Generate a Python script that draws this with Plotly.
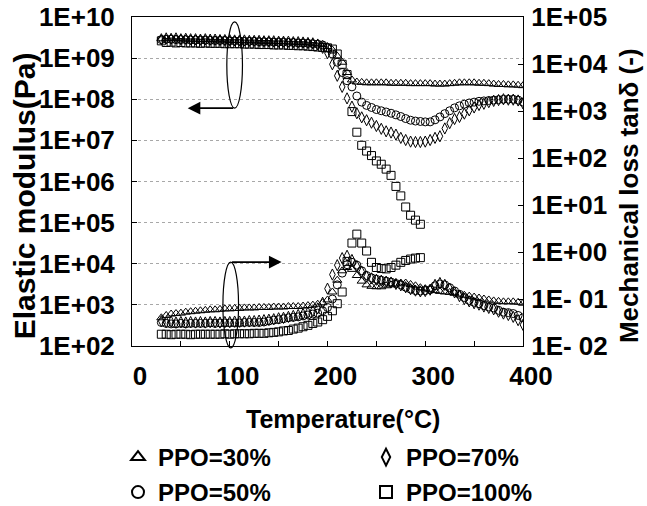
import plotly.graph_objects as go

# Temperatures (°C)
temp_a = [30, 35, 40, 45, 50, 55, 60, 65, 70, 75, 80, 85, 90, 95, 100, 105, 110, 115, 120, 125,
          130, 135, 140, 145, 150, 155, 160, 165, 170, 175, 180, 185, 190, 195, 200, 205, 210, 215,
          220, 225, 230, 235, 240, 245, 250, 255, 260, 265, 270, 275, 280, 285, 290, 295, 300, 305,
          310, 315, 320, 325, 330, 335, 340, 345, 350, 355, 360, 365, 370, 375, 380, 385, 390, 395, 400]
temp_100 = [30, 35, 40, 45, 50, 55, 60, 65, 70, 75, 80, 85, 90, 95, 100, 105, 110, 115, 120, 125,
            130, 135, 140, 145, 150, 155, 160, 165, 170, 175, 180, 185, 190, 195, 200, 205, 210, 215,
            220, 225, 230, 235, 240, 245, 250, 255, 260, 265, 270, 275, 280, 285, 290, 295]

# Elastic modulus (Pa)
E_30 = [2.95e9, 2.95e9, 3.02e9, 2.95e9, 2.95e9, 2.88e9, 2.88e9, 2.88e9,
        2.82e9, 2.82e9, 2.82e9, 2.75e9, 2.75e9, 2.75e9, 2.69e9, 2.69e9,
        2.69e9, 2.63e9, 2.63e9, 2.63e9, 2.57e9, 2.57e9, 2.57e9, 2.51e9,
        2.51e9, 2.51e9, 2.45e9, 2.45e9, 2.40e9, 2.40e9, 2.34e9, 2.29e9,
        2.24e9, 2.14e9, 1.91e9, 1.58e9, 1.12e9, 7.94e8, 4.47e8, 2.95e8,
        2.63e8, 2.57e8, 2.51e8, 2.51e8, 2.51e8, 2.51e8, 2.51e8, 2.45e8,
        2.45e8, 2.45e8, 2.45e8, 2.40e8, 2.40e8, 2.40e8, 2.40e8, 2.40e8,
        2.34e8, 2.34e8, 2.34e8, 2.40e8, 2.45e8, 2.51e8, 2.51e8, 2.51e8,
        2.51e8, 2.45e8, 2.45e8, 2.40e8, 2.34e8, 2.29e8, 2.29e8, 2.24e8,
        2.24e8, 2.19e8, 2.14e8]
E_50 = [2.82e9, 2.88e9, 2.88e9, 2.82e9, 2.82e9, 2.82e9, 2.75e9, 2.75e9,
        2.75e9, 2.75e9, 2.69e9, 2.69e9, 2.69e9, 2.69e9, 2.63e9, 2.63e9,
        2.63e9, 2.57e9, 2.57e9, 2.57e9, 2.51e9, 2.51e9, 2.51e9, 2.45e9,
        2.45e9, 2.45e9, 2.40e9, 2.40e9, 2.34e9, 2.34e9, 2.29e9, 2.24e9,
        2.19e9, 2.09e9, 1.78e9, 1.26e9, 7.94e8, 4.47e8, 2.82e8, 2.00e8,
        1.20e8, 8.51e7, 7.08e7, 6.31e7, 5.62e7, 5.25e7, 4.90e7, 4.57e7,
        4.17e7, 3.80e7, 3.39e7, 3.09e7, 2.95e7, 2.88e7, 2.82e7, 2.82e7,
        3.16e7, 3.72e7, 4.47e7, 5.25e7, 6.17e7, 6.92e7, 7.59e7, 8.13e7,
        8.51e7, 8.91e7, 9.12e7, 9.33e7, 9.55e7, 9.77e7, 1.00e8, 1.00e8,
        1.00e8, 9.55e7, 8.51e7]
E_70 = [2.88e9, 3.02e9, 2.95e9, 3.02e9, 2.88e9, 2.95e9, 2.88e9, 2.88e9,
        2.82e9, 2.88e9, 2.82e9, 2.82e9, 2.75e9, 2.75e9, 2.75e9, 2.69e9,
        2.69e9, 2.69e9, 2.63e9, 2.63e9, 2.63e9, 2.57e9, 2.57e9, 2.57e9,
        2.51e9, 2.51e9, 2.51e9, 2.45e9, 2.45e9, 2.40e9, 2.34e9, 2.29e9,
        2.14e9, 1.78e9, 1.32e9, 7.08e8, 3.72e8, 2.00e8, 1.05e8, 6.61e7,
        4.57e7, 3.63e7, 3.09e7, 2.69e7, 2.24e7, 1.91e7, 1.66e7, 1.55e7,
        1.38e7, 1.15e7, 1.02e7, 9.33e6, 9.12e6, 9.12e6, 9.33e6, 1.02e7,
        1.15e7, 1.26e7, 1.95e7, 2.63e7, 3.31e7, 3.72e7, 4.47e7, 5.37e7,
        6.31e7, 7.24e7, 7.76e7, 8.51e7, 9.12e7, 9.55e7, 1.00e8, 9.77e7,
        9.77e7, 9.33e7, 7.94e7]
E_100 = [2.63e9, 2.40e9, 2.45e9, 2.34e9, 2.40e9, 2.34e9, 2.34e9, 2.34e9,
         2.29e9, 2.34e9, 2.29e9, 2.29e9, 2.29e9, 2.24e9, 2.24e9, 2.24e9,
         2.24e9, 2.19e9, 2.19e9, 2.19e9, 2.14e9, 2.14e9, 2.14e9, 2.09e9,
         2.09e9, 2.09e9, 2.04e9, 2.04e9, 2.00e9, 2.00e9, 1.95e9, 1.91e9,
         1.86e9, 1.82e9, 1.78e9, 1.66e9, 1.26e9, 7.08e8, 3.98e8, 5.01e7,
         1.58e7, 7.59e6, 5.50e6, 4.27e6, 3.16e6, 2.63e6, 2.00e6, 1.41e6,
         7.59e5, 4.47e5, 2.40e5, 1.51e5, 1.15e5, 9.12e4]

# Mechanical loss tan delta (-)
tan_30 = [0.0398, 0.0447, 0.0479, 0.0490, 0.0501, 0.0525, 0.0537, 0.0550,
          0.0562, 0.0575, 0.0589, 0.0589, 0.0603, 0.0617, 0.0617, 0.0631,
          0.0631, 0.0646, 0.0646, 0.0646, 0.0661, 0.0661, 0.0661, 0.0676,
          0.0676, 0.0676, 0.0692, 0.0692, 0.0692, 0.0708, 0.0724, 0.0741,
          0.0776, 0.0832, 0.0955, 0.141, 0.251, 0.398, 0.468, 0.427,
          0.316, 0.240, 0.200, 0.186, 0.182, 0.182, 0.191, 0.200,
          0.209, 0.219, 0.219, 0.204, 0.191, 0.174, 0.166, 0.158,
          0.151, 0.145, 0.141, 0.138, 0.132, 0.126, 0.120, 0.115,
          0.110, 0.105, 0.100, 0.0955, 0.0912, 0.0891, 0.0871, 0.0871,
          0.0871, 0.0851, 0.0813]
tan_50 = [0.0316, 0.0302, 0.0295, 0.0295, 0.0302, 0.0295, 0.0302, 0.0302,
          0.0302, 0.0302, 0.0309, 0.0302, 0.0309, 0.0309, 0.0309, 0.0309,
          0.0309, 0.0316, 0.0316, 0.0316, 0.0316, 0.0324, 0.0339, 0.0355,
          0.0363, 0.0380, 0.0398, 0.0407, 0.0417, 0.0437, 0.0457, 0.0479,
          0.0501, 0.0562, 0.0661, 0.100, 0.200, 0.355, 0.537, 0.603,
          0.525, 0.398, 0.316, 0.282, 0.263, 0.251, 0.240, 0.229,
          0.214, 0.200, 0.178, 0.162, 0.151, 0.148, 0.151, 0.158,
          0.191, 0.209, 0.200, 0.174, 0.148, 0.126, 0.107, 0.0933,
          0.0851, 0.0794, 0.0724, 0.0676, 0.0646, 0.0575, 0.0525, 0.0513,
          0.0490, 0.0447, 0.0398]
tan_70 = [0.0339, 0.0324, 0.0331, 0.0316, 0.0324, 0.0316, 0.0324, 0.0316,
          0.0324, 0.0316, 0.0324, 0.0324, 0.0316, 0.0324, 0.0324, 0.0331,
          0.0331, 0.0331, 0.0339, 0.0339, 0.0347, 0.0355, 0.0363, 0.0372,
          0.0389, 0.0398, 0.0417, 0.0437, 0.0457, 0.0479, 0.0513, 0.0550,
          0.0631, 0.0832, 0.166, 0.331, 0.525, 0.741, 0.832, 0.676,
          0.501, 0.380, 0.302, 0.275, 0.257, 0.245, 0.234, 0.224,
          0.209, 0.195, 0.178, 0.162, 0.151, 0.145, 0.148, 0.158,
          0.200, 0.219, 0.200, 0.166, 0.138, 0.115, 0.100, 0.0891,
          0.0813, 0.0759, 0.0692, 0.0646, 0.0603, 0.0537, 0.0490, 0.0457,
          0.0417, 0.0355, 0.0282]
tan_100 = [0.0178, 0.0178, 0.0174, 0.0178, 0.0178, 0.0178, 0.0174, 0.0178,
           0.0178, 0.0178, 0.0178, 0.0178, 0.0178, 0.0182, 0.0178, 0.0182,
           0.0182, 0.0182, 0.0182, 0.0186, 0.0186, 0.0186, 0.0191, 0.0195,
           0.0200, 0.0209, 0.0214, 0.0229, 0.0240, 0.0257, 0.0275, 0.0302,
           0.0324, 0.0363, 0.0427, 0.0562, 0.0794, 0.141, 0.631, 1.55,
           2.40, 1.55, 1.05, 0.603, 0.468, 0.447, 0.437, 0.468,
           0.525, 0.603, 0.661, 0.708, 0.741, 0.759]

# (name, temperatures, modulus, tan delta, symbol, legend row)
series = [
    ("PPO=30%", temp_a, E_30, tan_30, "triangle-up-open", "legend"),
    ("PPO=70%", temp_a, E_70, tan_70, "diamond-tall-open", "legend"),
    ("PPO=50%", temp_a, E_50, tan_50, "circle-open", "legend2"),
    ("PPO=100%", temp_100, E_100, tan_100, "square-open", "legend2"),
]

left_vals = [1e2, 1e3, 1e4, 1e5, 1e6, 1e7, 1e8, 1e9, 1e10]
left_text = ["1E+02", "1E+03", "1E+04", "1E+05", "1E+06", "1E+07", "1E+08", "1E+09", "1E+10"]
right_vals = [1e-2, 1e-1, 1e0, 1e1, 1e2, 1e3, 1e4, 1e5]
right_text = ["1E- 02", "1E- 01", "1E+00", "1E+01", "1E+02", "1E+03", "1E+04", "1E+05"]
x_vals = [0, 50, 100, 150, 200, 250, 300, 350, 400]
x_text = ["0", "", "100", "", "200", "", "300", "", "400"]

FAM = "Liberation Sans"
TICKFONT = dict(family=FAM, size=26, color="black", weight="bold")
LEGFONT = dict(family=FAM, size=24, color="black", weight="bold")

fig = go.Figure()
for name, t, e, td, sym, leg in series:
    mk = dict(symbol=sym, size=8, color="black", line=dict(color="black", width=1))
    fig.add_trace(go.Scatter(x=t, y=e, mode="markers", name=name, legendgroup=name,
                             marker=mk, yaxis="y", showlegend=True, legend=leg))
    fig.add_trace(go.Scatter(x=t, y=td, mode="markers", name=name, legendgroup=name,
                             marker=mk, yaxis="y2", showlegend=False, legend=leg))

legend_common = dict(orientation="h", x=-0.0358, xanchor="left", yanchor="top",
                     entrywidth=203, font=LEGFONT, bgcolor="rgba(0,0,0,0)", itemsizing="constant")

fig.update_layout(
    width=647, height=506,
    margin=dict(l=132, r=124, t=17, b=160, autoexpand=False),
    paper_bgcolor="white", plot_bgcolor="white",
    font=dict(family=FAM, size=24, color="black", weight="bold"),
    xaxis=dict(range=[0, 400], tickmode="array", tickvals=x_vals, ticktext=x_text,
               ticks="inside", ticklen=5, tickcolor="black", showline=True, linecolor="black",
               linewidth=1, mirror=True, showgrid=False, zeroline=False, automargin=False,
               ticklabelshift=8, ticklabelstandoff=7, tickfont=TICKFONT),
    yaxis=dict(type="log", range=[2, 10], tickmode="array", tickvals=left_vals, ticktext=left_text,
               ticks="inside", ticklen=5, tickcolor="black", showline=True, linecolor="black",
               linewidth=1, showgrid=True, gridcolor="#a8a8a8", griddash="dot", gridwidth=1,
               zeroline=False, automargin=False, ticklabelstandoff=11, tickfont=TICKFONT),
    yaxis2=dict(type="log", range=[-2, 5], overlaying="y", side="right", tickmode="array",
                tickvals=right_vals, ticktext=right_text, ticks="inside", ticklen=5,
                tickcolor="black", showline=True, linecolor="black", linewidth=1,
                showgrid=False, zeroline=False, automargin=False, ticklabelstandoff=2,
                tickfont=TICKFONT),
    legend=dict(legend_common, y=-0.2705),
    legend2=dict(legend_common, y=-0.3769),
    showlegend=True,
)

# Axis titles
fig.add_annotation(text="Temperature(°C)", xref="paper", yref="paper", x=0.54, y=-0.222,
                   showarrow=False, xanchor="center", yanchor="middle",
                   font=dict(family=FAM, size=25, color="black", weight="bold"))
fig.add_annotation(text="Elastic modulus(Pa)", xref="paper", yref="paper", x=-0.2762, y=0.455,
                   showarrow=False, textangle=-90, xanchor="center", yanchor="middle",
                   font=dict(family=FAM, size=30, color="black", weight="bold"))
fig.add_annotation(text="Mechanical loss tanδ (-)", xref="paper", yref="paper", x=1.273, y=0.458,
                   showarrow=False, textangle=-90, xanchor="center", yanchor="middle",
                   font=dict(family=FAM, size=26, color="black", weight="bold"))

# Group markers (ellipses + arrows)
fig.add_shape(type="circle", xref="x", yref="paper", x0=97, x1=113, y0=0.723, y1=0.985,
              line=dict(color="black", width=1.2))
fig.add_shape(type="circle", xref="x", yref="paper", x0=93, x1=109, y0=-0.006, y1=0.255,
              line=dict(color="black", width=1.2))
fig.add_annotation(x=57, y=0.723, xref="x", yref="paper", ax=47, ay=0, axref="pixel", ayref="pixel",
                   showarrow=True, arrowhead=2, arrowsize=1.4, arrowwidth=1.8, arrowcolor="black", text="")
fig.add_annotation(x=153, y=0.255, xref="x", yref="paper", ax=-51, ay=0, axref="pixel", ayref="pixel",
                   showarrow=True, arrowhead=2, arrowsize=1.4, arrowwidth=1.8, arrowcolor="black", text="")

# Remove the default page margin so the 647x506 figure fills the window exactly
fig.write_html("out.html", config={"displayModeBar": False},
               post_script="document.body.style.margin='0';")
